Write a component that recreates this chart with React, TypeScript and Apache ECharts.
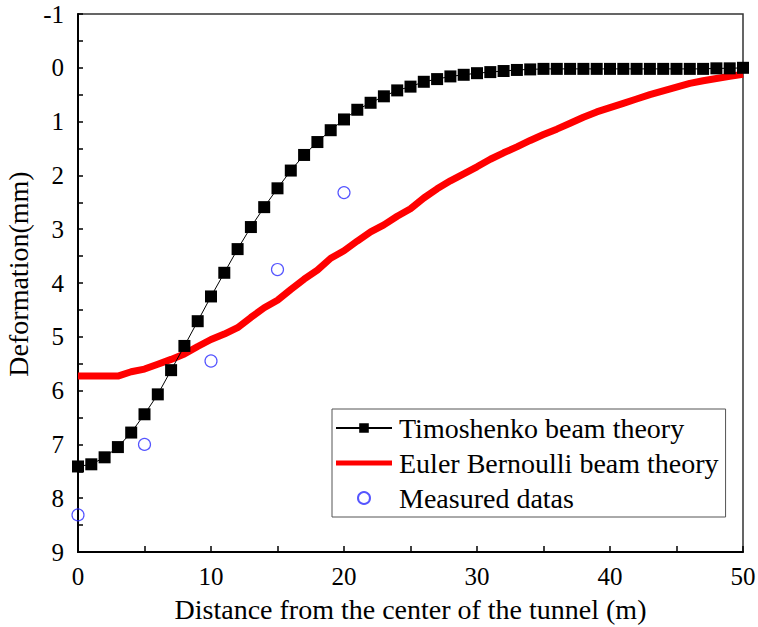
import React, { useEffect, useRef } from "react";
import * as echarts from "echarts";

const xValues = Array.from({ length: 51 }, (_, i) => i);

const timoshenko = [
  7.41, 7.37, 7.24, 7.05, 6.78, 6.44, 6.07, 5.62, 5.17, 4.71,
  4.25, 3.81, 3.37, 2.96, 2.59, 2.24, 1.91, 1.62, 1.38, 1.16,
  0.96, 0.78, 0.65, 0.53, 0.42, 0.35, 0.26, 0.21, 0.16, 0.13,
  0.10, 0.08, 0.06, 0.04, 0.03, 0.02, 0.02, 0.02, 0.02, 0.02,
  0.02, 0.02, 0.02, 0.02, 0.02, 0.02, 0.02, 0.02, 0.01, 0.01, 0.0,
];

const euler = [
  5.73, 5.73, 5.73, 5.73, 5.65, 5.60, 5.51, 5.42, 5.32, 5.18,
  5.05, 4.95, 4.83, 4.64, 4.46, 4.32, 4.12, 3.93, 3.76, 3.54,
  3.40, 3.22, 3.05, 2.92, 2.76, 2.62, 2.42, 2.25, 2.10, 1.97,
  1.84, 1.70, 1.58, 1.47, 1.35, 1.24, 1.14, 1.03, 0.92, 0.82,
  0.74, 0.66, 0.58, 0.50, 0.43, 0.36, 0.29, 0.24, 0.20, 0.16, 0.12,
];

const measuredX = [0, 5, 10, 15, 20];
const measuredY = [8.31, 7.0, 5.45, 3.75, 2.32];

const FONT = "Liberation Serif";

export default function App() {
  const ref = useRef<HTMLDivElement>(null);
  useEffect(() => {
    if (!ref.current) return;
    const chart = echarts.init(ref.current, null, { renderer: "svg" });
    chart.setOption({
      animation: false,
      backgroundColor: "#fff",
      grid: {
        left: 78,
        right: 15,
        top: 14,
        bottom: 75,
        outerBoundsMode: "none",
        containLabel: false,
        show: true,
        borderColor: "#333",
        borderWidth: 1.5,
      },
      legend: {
        orient: "vertical",
        left: 332,
        top: 409,
        backgroundColor: "#fff",
        borderColor: "#555",
        borderWidth: 1,
        borderRadius: 0,
        padding: [5, 7, 5, 3],
        itemGap: 7,
        itemWidth: 56,
        itemHeight: 12,
        textStyle: { fontFamily: FONT, fontSize: 28, color: "#000", padding: [0, 0, 0, 2] },
        data: [
          { name: "Timoshenko beam theory" },
          { name: "Euler Bernoulli beam theory", icon: "path://M0,0 L56,0 L56,5 L0,5 Z" },
          { name: "Measured datas" },
        ],
      },
      xAxis: {
        type: "value",
        min: 0,
        max: 50,
        interval: 10,
        name: "Distance from the center of the tunnel (m)",
        nameLocation: "middle",
        nameGap: 43,
        nameTextStyle: { fontFamily: FONT, fontSize: 28, color: "#000" },
        axisLine: { onZero: false, lineStyle: { color: "#000", width: 2 } },
        axisTick: { inside: true, length: 6, lineStyle: { color: "#000", width: 1.5 } },
        minorTick: { show: true, splitNumber: 2, length: 6, lineStyle: { color: "#000", width: 1.5 } },
        axisLabel: { fontFamily: FONT, fontSize: 25, color: "#000", margin: 12 },
        splitLine: { show: false },
      },
      yAxis: {
        type: "value",
        inverse: true,
        min: -1,
        max: 9,
        interval: 1,
        name: "Deformation(mm)",
        nameLocation: "middle",
        nameGap: 39,
        nameTextStyle: { fontFamily: FONT, fontSize: 28, color: "#000", padding: [0, 0, 0, 18] },
        axisLine: { show: true, onZero: false, lineStyle: { color: "#000", width: 2 } },
        axisTick: { show: true, inside: true, length: 5, lineStyle: { color: "#000", width: 1.5 } },
        minorTick: { show: true, splitNumber: 2, length: 5, lineStyle: { color: "#000", width: 1.5 } },
        axisLabel: { fontFamily: FONT, fontSize: 25, color: "#000", margin: 14 },
        splitLine: { show: false },
      },
      series: [
        {
          name: "Timoshenko beam theory",
          type: "line",
          data: xValues.map((x, i) => [x, timoshenko[i]]),
          symbol: "rect",
          symbolSize: 12,
          lineStyle: { color: "#000", width: 1 },
          itemStyle: { color: "#000" },
          z: 3,
        },
        {
          name: "Euler Bernoulli beam theory",
          type: "line",
          data: xValues.map((x, i) => [x, euler[i]]),
          symbol: "none",
          lineStyle: { color: "#ff0000", width: 7 },
          itemStyle: { color: "#ff0000" },
          z: 2,
        },
        {
          name: "Measured datas",
          type: "scatter",
          data: measuredX.map((x, i) => [x, measuredY[i]]),
          symbol: "circle",
          symbolSize: 12,
          itemStyle: { color: "transparent", borderColor: "#2a2aff", borderWidth: 1.2 },
          z: 4,
        },
      ],
    });
    return () => chart.dispose();
  }, []);
  return (
    <div
      ref={ref}
      style={{ position: "absolute", left: 0, top: 0, width: 758, height: 627 }}
    />
  );
}
